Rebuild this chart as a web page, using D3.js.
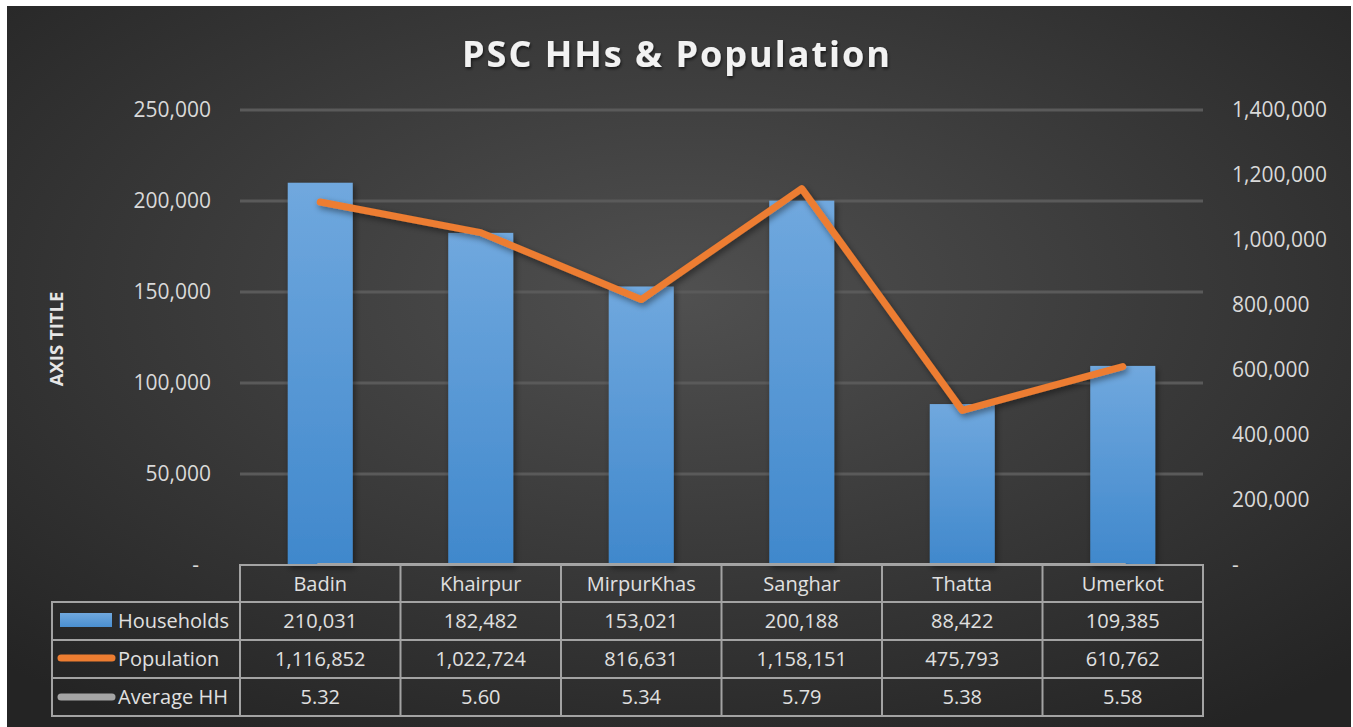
<!DOCTYPE html>
<html><head><meta charset="utf-8">
<script src="https://cdn.jsdelivr.net/npm/d3@7"></script>
<style>
html,body{margin:0;padding:0;background:#fff;}
svg{display:block;}
text{font-family:"Open Sans",sans-serif;}
</style></head>
<body>
<script>
const categories = ["Badin","Khairpur","MirpurKhas","Sanghar","Thatta","Umerkot"];
const households = [210031,182482,153021,200188,88422,109385];
const population = [1116852,1022724,816631,1158151,475793,610762];
const avgHH = [5.32,5.60,5.34,5.79,5.38,5.58];
const leftTicks = [0,50000,100000,150000,200000,250000];
const rightTicks = [0,200000,400000,600000,800000,1000000,1200000,1400000];
const seriesNames = ["Households","Population","Average HH"];
const title = "PSC HHs & Population";
const axisTitle = "AXIS TITLE";

const W=1353,H=727;
const svg=d3.select("body").append("svg").attr("width",W).attr("height",H);
const defs=svg.append("defs");
const bg=defs.append("radialGradient").attr("id","bg").attr("cx","50%").attr("cy","40%").attr("r","72%");
bg.append("stop").attr("offset","0%").attr("stop-color","#505050");
bg.append("stop").attr("offset","100%").attr("stop-color","#242424");
const bar=defs.append("linearGradient").attr("id","bar").attr("x1",0).attr("y1",0).attr("x2",0).attr("y2",1);
bar.append("stop").attr("offset","0%").attr("stop-color","#70a8de");
bar.append("stop").attr("offset","100%").attr("stop-color","#4088cc");
const lg=defs.append("linearGradient").attr("id","lgbar").attr("x1",0).attr("y1",0).attr("x2",0).attr("y2",1);
lg.append("stop").attr("offset","0%").attr("stop-color","#70a8de");
lg.append("stop").attr("offset","100%").attr("stop-color","#4a8fd0");
const sh=defs.append("filter").attr("id","sh").attr("x","-20%").attr("y","-20%").attr("width","140%").attr("height","140%");
sh.append("feDropShadow").attr("dx",2).attr("dy",3).attr("stdDeviation",3).attr("flood-color","#000").attr("flood-opacity",0.45);
const tsh=defs.append("filter").attr("id","tsh");
tsh.append("feDropShadow").attr("dx",1).attr("dy",2).attr("stdDeviation",1.5).attr("flood-color","#000").attr("flood-opacity",0.6);

svg.append("rect").attr("x",7).attr("y",6).attr("width",1344).attr("height",721).attr("fill","url(#bg)");

const x0=240,x1=1203,yTop=110,yBot=565;
const xb=d3.scaleBand().domain(categories).range([x0,x1]).paddingInner(0.595).paddingOuter(0.2975);
const xc=d3.scaleBand().domain(categories).range([x0,x1]).padding(0);
const yL=d3.scaleLinear().domain([0,250000]).range([yBot,yTop]);
const yR=d3.scaleLinear().domain([0,1400000]).range([yBot,yTop]);
const fmt=d3.format(",");

// gridlines
svg.append("g").selectAll("line").data(leftTicks.filter(d=>d>0)).join("line")
 .attr("x1",x0).attr("x2",x1).attr("y1",d=>yL(d)).attr("y2",d=>yL(d))
 .attr("stroke","#5a5a5a").attr("stroke-width",3);

// left axis
const la=svg.append("g").attr("transform",`translate(${211},0)`)
 .call(d3.axisLeft(yL).tickValues(leftTicks).tickSize(0).tickPadding(0).tickFormat(d=>d===0?"-":fmt(d)));
la.select(".domain").remove();
la.selectAll("text").attr("font-size",21).attr("fill","#d9d9d9").attr("font-family","Open Sans")
 .attr("dx",d=>d===0?-12:0);
// right axis
const ra=svg.append("g").attr("transform",`translate(${1232},0)`)
 .call(d3.axisRight(yR).tickValues(rightTicks).tickSize(0).tickPadding(0).tickFormat(d=>d===0?"-":fmt(d)));
ra.select(".domain").remove();
ra.selectAll("text").attr("font-size",21).attr("fill","#d9d9d9").attr("font-family","Open Sans");

// bars
svg.append("g").attr("filter","url(#sh)").selectAll("rect").data(categories).join("rect")
 .attr("x",d=>xb(d)).attr("width",xb.bandwidth())
 .attr("y",(d,i)=>yL(households[i])).attr("height",(d,i)=>yBot-yL(households[i]))
 .attr("fill","url(#bar)");

// table
const tg=svg.append("g");
const rowY=[565,602,640,678,716];
const tStroke="#a3a3a3";
tg.append("rect").attr("x",x0).attr("y",rowY[0]).attr("width",x1-x0).attr("height",rowY[1]-rowY[0]).attr("fill","none").attr("stroke",tStroke).attr("stroke-width",2);
tg.append("rect").attr("x",52).attr("y",rowY[1]).attr("width",x1-52).attr("height",rowY[4]-rowY[1]).attr("fill","none").attr("stroke",tStroke).attr("stroke-width",2);
[rowY[2],rowY[3]].forEach(y=>tg.append("line").attr("x1",52).attr("x2",x1).attr("y1",y).attr("y2",y).attr("stroke",tStroke).attr("stroke-width",2));
tg.append("line").attr("x1",x0).attr("x2",x0).attr("y1",rowY[0]).attr("y2",rowY[4]).attr("stroke",tStroke).attr("stroke-width",2);
categories.slice(1).forEach(c=>tg.append("line").attr("x1",xc(c)).attr("x2",xc(c)).attr("y1",rowY[0]).attr("y2",rowY[4]).attr("stroke",tStroke).attr("stroke-width",2));

// average HH line (left axis)
const lineL=d3.line().x((d,i)=>xc(categories[i])+xc.bandwidth()/2).y(d=>yL(d)-1);
svg.append("path").datum(avgHH).attr("d",lineL).attr("fill","none").attr("stroke","#a5a5a5")
 .attr("stroke-width",6).attr("stroke-linecap","round").attr("stroke-linejoin","round").attr("filter","url(#sh)");
// population line
const lineR=d3.line().x((d,i)=>xc(categories[i])+xc.bandwidth()/2).y(d=>yR(d));
svg.append("path").datum(population).attr("d",lineR).attr("fill","none").attr("stroke","#ed7d31")
 .attr("stroke-width",7).attr("stroke-linecap","round").attr("stroke-linejoin","round").attr("filter","url(#sh)");

const txtFill="#e0e0e0";
tg.selectAll(".hdr").data(categories).join("text").attr("class","hdr")
 .attr("x",d=>xc(d)+xc.bandwidth()/2).attr("y",(rowY[0]+rowY[1])/2).attr("dy","0.36em")
 .attr("text-anchor","middle").attr("font-size",20).attr("fill",txtFill).text(d=>d);
const rows=[households.map(fmt),population.map(fmt),avgHH.map(d=>d.toFixed(2))];
rows.forEach((vals,r)=>{
  tg.selectAll(".r"+r).data(vals).join("text").attr("class","r"+r)
   .attr("x",(d,i)=>xc(categories[i])+xc.bandwidth()/2).attr("y",(rowY[r+1]+rowY[r+2])/2).attr("dy","0.36em")
   .attr("text-anchor","middle").attr("font-size",20).attr("fill",txtFill).text(d=>d);
  tg.append("text").attr("x",118).attr("y",(rowY[r+1]+rowY[r+2])/2).attr("dy","0.36em")
   .attr("font-size",20).attr("fill",txtFill).text(seriesNames[r]);
});
// legend keys
tg.append("rect").attr("x",60).attr("y",613).attr("width",52).attr("height",14).attr("fill","url(#lgbar)");
tg.append("line").attr("x1",61).attr("x2",112).attr("y1",658).attr("y2",658).attr("stroke","#ed7d31").attr("stroke-width",7).attr("stroke-linecap","round");
tg.append("line").attr("x1",61).attr("x2",112).attr("y1",697).attr("y2",697).attr("stroke","#a5a5a5").attr("stroke-width",7).attr("stroke-linecap","round");

// title
svg.append("text").attr("x",677).attr("y",67).attr("text-anchor","middle")
 .attr("font-size",36).attr("font-weight","bold").attr("letter-spacing",2).attr("fill","#f2f2f2")
 .attr("filter","url(#tsh)").text(title);
// axis title
svg.append("text").attr("transform","translate(63,339) rotate(-90)").attr("text-anchor","middle")
 .attr("font-size",18.5).attr("font-weight","bold").attr("fill","#e6e6e6").text(axisTitle);
</script>
</body></html>
